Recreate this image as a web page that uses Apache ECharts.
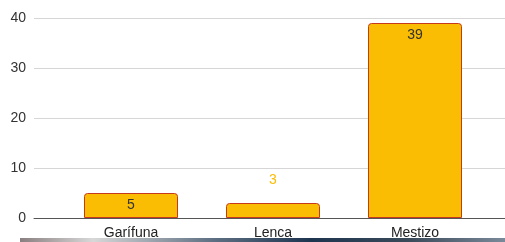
<!DOCTYPE html>
<html>
<head>
    <meta charset="utf-8">
    <title>Bar chart</title>
    <style>
        html, body { margin: 0; padding: 0; background: #fff; }
        #main { width: 505px; height: 242px; }
    </style>
</head>
<body>
    <div id="main"></div>
    <script src="https://cdn.jsdelivr.net/npm/echarts@6/dist/echarts.min.js"></script>
    <script>
    // data
    var categories = ['Garífuna', 'Lenca', 'Mestizo'];
    var counts = [5, 3, 39];
    var yTicks = [0, 10, 20, 30, 40];

    var myChart = echarts.init(document.getElementById('main'));

    // small bars put their label above in yellow, others inside the top
    var barData = counts.map(function (v) {
        if (v < 4) {
            return {
                value: v,
                label: { position: 'top', distance: 16, color: '#fbbc04' }
            };
        }
        return v;
    });

    var font = 'Liberation Sans';

    var option = {
        animation: false,
        grid: [
            // background grid: split lines + axis line span the full width
            { left: 34, right: 0, top: 18, bottom: 24 },
            // bars
            { left: 60, right: 19, top: 18, bottom: 24 }
        ],
        xAxis: [
            {
                gridIndex: 0,
                type: 'category',
                data: [''],
                axisLine: { lineStyle: { color: '#555', width: 1 } },
                axisTick: { show: false },
                axisLabel: { show: false }
            },
            {
                gridIndex: 1,
                type: 'category',
                data: categories,
                axisLine: { show: false },
                axisTick: { show: false },
                axisLabel: {
                    color: '#222',
                    fontSize: 14,
                    fontFamily: font,
                    margin: 8
                }
            }
        ],
        yAxis: [
            {
                gridIndex: 0,
                type: 'value',
                min: yTicks[0],
                max: yTicks[yTicks.length - 1],
                interval: 10,
                axisLine: { show: false },
                axisTick: { show: false },
                axisLabel: {
                    color: '#333',
                    fontSize: 14,
                    fontFamily: font,
                    margin: 8
                },
                splitLine: { lineStyle: { color: '#d6d6d6', width: 1 } }
            },
            {
                gridIndex: 1,
                type: 'value',
                min: yTicks[0],
                max: yTicks[yTicks.length - 1],
                show: false,
                splitLine: { show: false }
            }
        ],
        series: [
            {
                type: 'bar',
                xAxisIndex: 1,
                yAxisIndex: 1,
                data: barData,
                barWidth: 94,
                itemStyle: {
                    color: '#fbbc04',
                    borderColor: '#c53a1c',
                    borderWidth: 1,
                    borderRadius: [3, 3, 0, 0]
                },
                label: {
                    show: true,
                    position: 'insideTop',
                    distance: 5,
                    color: '#333',
                    fontSize: 14,
                    fontFamily: font
                }
            }
        ],
        graphic: [
            {
                type: 'rect',
                left: 20,
                top: 238,
                shape: { width: 485, height: 4 },
                style: {
                    fill: new echarts.graphic.LinearGradient(0, 0, 1, 0, [
                        { offset: 0, color: '#8a7f80' },
                        { offset: 0.15, color: '#d8d8d8' },
                        { offset: 0.4, color: '#5d6f82' },
                        { offset: 0.6, color: '#1e3550' },
                        { offset: 0.8, color: '#3a4a5a' },
                        { offset: 1, color: '#7a8a9a' }
                    ])
                },
                z: 100
            }
        ]
    };

    myChart.setOption(option);
    </script>
</body>
</html>
